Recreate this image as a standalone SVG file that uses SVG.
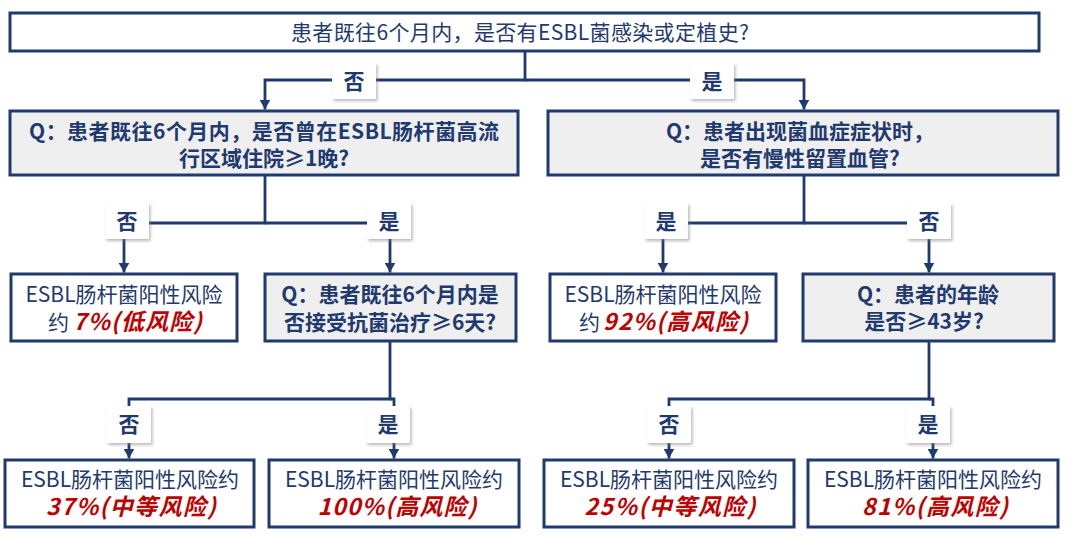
<svg xmlns="http://www.w3.org/2000/svg" width="1078" height="542" viewBox="0 0 1078 542">
<defs>
<style>
.box{fill:#ffffff;stroke:#1F3A6E;stroke-width:3}
.qbox{fill:#EFEFEF;stroke:#1F3A6E;stroke-width:3}
.lab{fill:#ffffff;filter:url(#sh)}
.ln{fill:none;stroke:#1F3A6E;stroke-width:2.8}
.t{font-family:"Noto Sans CJK SC","Microsoft YaHei",sans-serif;font-size:21px;fill:#1F3A6E;text-anchor:middle}
.s{text-anchor:start}
.b{font-weight:bold}
.r{font-weight:bold;font-style:italic;fill:#C00000;font-size:23px}
</style>
<filter id="sh" x="-30%" y="-30%" width="160%" height="160%">
<feDropShadow dx="1.5" dy="2" stdDeviation="1.5" flood-color="#808080" flood-opacity="0.55"/>
</filter>
<marker id="ah" markerUnits="userSpaceOnUse" markerWidth="11" markerHeight="11" refX="10" refY="5.5" orient="auto">
<path d="M0,0 L10,5.5 L0,11 z" fill="#1F3A6E"/>
</marker>
</defs>
<rect width="1078" height="542" fill="#ffffff"/>

<g id="connectors">
<path class="ln" d="M525,51 V80 H265 V109.5" marker-end="url(#ah)"/>
<path class="ln" d="M525,80 H804 V109.5" marker-end="url(#ah)"/>
<path class="ln" d="M265,175 V223 H124 V272.5" marker-end="url(#ah)"/>
<path class="ln" d="M265,223 H390 V272.5" marker-end="url(#ah)"/>
<path class="ln" d="M804,175 V223 H663 V272.5" marker-end="url(#ah)"/>
<path class="ln" d="M804,223 H929 V272.5" marker-end="url(#ah)"/>
<path class="ln" d="M390,341 V399 H129 V458.5" marker-end="url(#ah)"/>
<path class="ln" d="M390,399 H394 V458.5" marker-end="url(#ah)"/>
<path class="ln" d="M929,341 V399 H669 V458.5" marker-end="url(#ah)"/>
<path class="ln" d="M929,399 H933 V458.5" marker-end="url(#ah)"/>
</g>

<g id="labels">
<g id="lab-top-no"><rect class="lab" x="332" y="63" width="44" height="36"/><text class="t b" x="354" y="89">否</text></g>
<g id="lab-top-yes"><rect class="lab" x="690" y="63" width="44" height="36"/><text class="t b" x="712" y="89">是</text></g>
<g id="lab-l1-no"><rect class="lab" x="105" y="203" width="44" height="36"/><text class="t b" x="127" y="229">否</text></g>
<g id="lab-l1-yes"><rect class="lab" x="367" y="203" width="44" height="36"/><text class="t b" x="389" y="229">是</text></g>
<g id="lab-r1-yes"><rect class="lab" x="644" y="203" width="44" height="36"/><text class="t b" x="666" y="229">是</text></g>
<g id="lab-r1-no"><rect class="lab" x="907" y="203" width="44" height="36"/><text class="t b" x="929" y="229">否</text></g>
<g id="lab-l2-no"><rect class="lab" x="107" y="406" width="44" height="37"/><text class="t b" x="129" y="432">否</text></g>
<g id="lab-l2-yes"><rect class="lab" x="366" y="406" width="44" height="37"/><text class="t b" x="388" y="432">是</text></g>
<g id="lab-r2-no"><rect class="lab" x="647" y="406" width="44" height="37"/><text class="t b" x="669" y="432">否</text></g>
<g id="lab-r2-yes"><rect class="lab" x="906" y="406" width="44" height="37"/><text class="t b" x="928" y="432">是</text></g>
</g>

<g id="q-top">
<rect class="box" x="10" y="13" width="1029" height="38"/>
<text class="t" x="520" y="40" textLength="458" lengthAdjust="spacing">患者既往6个月内，是否有ESBL菌感染或定植史?</text>
</g>

<g id="q-left">
<rect class="qbox" x="10" y="111" width="508" height="64"/>
<text class="t b" x="264" y="139" textLength="470" lengthAdjust="spacing">Q：患者既往6个月内，是否曾在ESBL肠杆菌高流</text>
<text class="t b" x="264" y="166">行区域住院≥1晚?</text>
</g>

<g id="q-right">
<rect class="qbox" x="548" y="111" width="510" height="64"/>
<text class="t b" x="800" y="139">Q：患者出现菌血症症状时，</text>
<text class="t b" x="800" y="166">是否有慢性留置血管?</text>
</g>

<g id="res-7">
<rect class="box" x="11" y="274" width="226" height="67"/>
<text class="t" x="124" y="302">ESBL肠杆菌阳性风险</text>
<text class="t s" x="48" y="330">约</text>
<text class="t s r" x="73" y="330" textLength="129" lengthAdjust="spacing">7%(低风险)</text>
</g>

<g id="q-antibiotic">
<rect class="qbox" x="265" y="274" width="251" height="67"/>
<text class="t b" x="390" y="302">Q：患者既往6个月内是</text>
<text class="t b" x="390" y="330">否接受抗菌治疗≥6天?</text>
</g>

<g id="res-92">
<rect class="box" x="550" y="274" width="226" height="67"/>
<text class="t" x="663" y="302">ESBL肠杆菌阳性风险</text>
<text class="t s" x="579" y="330">约</text>
<text class="t s r" x="603" y="330" textLength="145" lengthAdjust="spacing">92%(高风险)</text>
</g>

<g id="q-age">
<rect class="qbox" x="803" y="274" width="251" height="67"/>
<text class="t b" x="928" y="302">Q：患者的年龄</text>
<text class="t b" x="924" y="329">是否≥43岁?</text>
</g>

<g id="res-37">
<rect class="box" x="5" y="460" width="249" height="67"/>
<text class="t" x="130" y="487">ESBL肠杆菌阳性风险约</text>
<text class="t r" x="131" y="515" textLength="170" lengthAdjust="spacing">37%(中等风险)</text>
</g>

<g id="res-100">
<rect class="box" x="269" y="460" width="250" height="67"/>
<text class="t" x="394" y="487">ESBL肠杆菌阳性风险约</text>
<text class="t r" x="397" y="515" textLength="159" lengthAdjust="spacing">100%(高风险)</text>
</g>

<g id="res-25">
<rect class="box" x="544" y="460" width="250" height="67"/>
<text class="t" x="669" y="487">ESBL肠杆菌阳性风险约</text>
<text class="t r" x="670" y="515" textLength="171" lengthAdjust="spacing">25%(中等风险)</text>
</g>

<g id="res-81">
<rect class="box" x="808" y="460" width="250" height="67"/>
<text class="t" x="933" y="487">ESBL肠杆菌阳性风险约</text>
<text class="t r" x="935" y="515" textLength="146" lengthAdjust="spacing">81%(高风险)</text>
</g>
</svg>
